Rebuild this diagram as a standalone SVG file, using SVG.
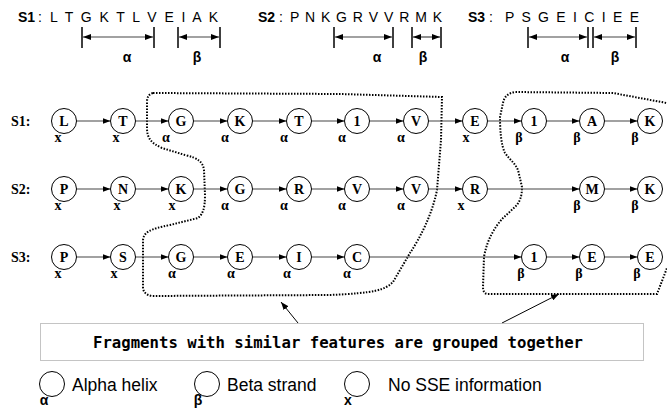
<svg xmlns="http://www.w3.org/2000/svg" width="667" height="409" viewBox="0 0 667 409">
<style>
.seq{font-family:"Liberation Sans",Arial,sans-serif;font-size:14px;fill:#000}
.seqb{font-family:"Liberation Sans",Arial,sans-serif;font-size:14px;font-weight:bold;fill:#000}
.gk{font-family:"Liberation Sans",Arial,sans-serif;font-size:14px;font-weight:bold;fill:#000;text-anchor:middle}
.bar{stroke:#000;stroke-width:1.5}
.span{stroke:#444;stroke-width:1.2;fill:none}
.row{font-family:"Liberation Serif","Times New Roman",serif;font-size:14px;font-weight:bold;fill:#000}
circle.n{fill:#fff;stroke:#000;stroke-width:1}
.lt{font-family:"Liberation Serif","Times New Roman",serif;font-size:14px;font-weight:bold;fill:#000;text-anchor:middle}
.sse{font-family:"Liberation Serif","Times New Roman",serif;font-size:14px;font-weight:bold;fill:#000;text-anchor:middle}
.edge{stroke:#444;stroke-width:1.2;fill:none}
.grp{stroke:#000;stroke-width:2;fill:none;stroke-dasharray:1.5 1.5}
.ptr{stroke:#000;stroke-width:1;fill:none}
.box{fill:#fff;stroke:#888;stroke-width:1;stroke-dasharray:1 1}
.boxt{font-family:"DejaVu Sans Mono",monospace;font-size:15.5px;font-weight:bold;fill:#000}
.leg{font-family:"Liberation Sans",Arial,sans-serif;font-size:17.5px;fill:#000}
</style>
<defs>
<marker id="ah" viewBox="0 0 8 6" refX="8" refY="3" markerWidth="8" markerHeight="6" markerUnits="userSpaceOnUse" orient="auto-start-reverse">
<path d="M0,0 L8,3 L0,6 z" fill="#000"/>
</marker>
</defs>
<rect width="667" height="409" fill="#fff"/>

<g id="sequences">
<text class="seqb" x="18" y="22">S1</text><text class="seq" x="38" y="22">:</text>
<text class="seq" x="50" y="22" textLength="168" lengthAdjust="spacing">L T G K T L V E I A K</text>
<text class="seqb" x="258" y="22">S2</text><text class="seq" x="279" y="22">:</text>
<text class="seq" x="290" y="22" textLength="152" lengthAdjust="spacing">P N K G R V V R M K</text>
<text class="seqb" x="468" y="22">S3</text><text class="seq" x="489" y="22">:</text>
<text class="seq" x="505" y="22" textLength="134" lengthAdjust="spacing">P S G E I C I E E</text>
</g>

<g id="brackets">
<line class="bar" x1="82" y1="27" x2="82" y2="48"/><line class="bar" x1="154" y1="27" x2="154" y2="48"/>
<line class="span" x1="83" y1="37" x2="153" y2="37" marker-start="url(#ah)" marker-end="url(#ah)"/>
<text class="gk" x="127" y="62">α</text>
<line class="bar" x1="178" y1="27" x2="178" y2="48"/><line class="bar" x1="220" y1="27" x2="220" y2="48"/>
<line class="span" x1="179" y1="37" x2="219" y2="37" marker-start="url(#ah)" marker-end="url(#ah)"/>
<text class="gk" x="197" y="62">β</text>
<line class="bar" x1="334" y1="27" x2="334" y2="48"/><line class="bar" x1="393" y1="27" x2="393" y2="48"/>
<line class="span" x1="335" y1="37" x2="392" y2="37" marker-start="url(#ah)" marker-end="url(#ah)"/>
<text class="gk" x="377" y="62">α</text>
<line class="bar" x1="412" y1="27" x2="412" y2="48"/><line class="bar" x1="441" y1="27" x2="441" y2="48"/>
<line class="span" x1="413" y1="37" x2="440" y2="37" marker-start="url(#ah)" marker-end="url(#ah)"/>
<text class="gk" x="423" y="62">β</text>
<line class="bar" x1="528" y1="27" x2="528" y2="48"/><line class="bar" x1="588" y1="27" x2="588" y2="48"/>
<line class="span" x1="529" y1="37" x2="587" y2="37" marker-start="url(#ah)" marker-end="url(#ah)"/>
<text class="gk" x="565" y="62">α</text>
<line class="bar" x1="593" y1="27" x2="593" y2="48"/><line class="bar" x1="636" y1="27" x2="636" y2="48"/>
<line class="span" x1="594" y1="37" x2="635" y2="37" marker-start="url(#ah)" marker-end="url(#ah)"/>
<text class="gk" x="615" y="62">β</text>
</g>

<g id="row-labels">
<text class="row" x="11" y="126">S1:</text>
<text class="row" x="11" y="194">S2:</text>
<text class="row" x="11" y="262">S3:</text>
</g>

<g id="groups">
<path class="grp" d="M153,93 L340,94 L442,97 L441,140 L437,190 C432,215 420,238 410,253 L393,282 C385,290 375,293 330,295 L152,296 C146,295 143,292 143,287 L143,240 C144,232 150,229 170,225 L198,218 C203,214 205,208 205,195 L204,170 C203,162 198,158 185,155 L162,148 C151,143 147,138 147,128 L147,102 C147,97 149,94 153,93 Z"/>
<path class="grp" d="M672,104 L613,93 L515,92 C508,93 504,97 503,103 L500,117 C500,130 501,145 505,153 C510,160 515,163 518,170 L522,187 C522,196 520,202 515,207 L503,218 C494,228 487,240 484,257 L483,287 C483,292 485,294 488,294 L657,294 L667,268"/>
</g>

<g id="connectors">
<line class="edge" x1="76.5" y1="121" x2="110.5" y2="121" marker-end="url(#ah)"/>
<line class="edge" x1="135.5" y1="121" x2="168.5" y2="121" marker-end="url(#ah)"/>
<line class="edge" x1="193.5" y1="121" x2="227.5" y2="121" marker-end="url(#ah)"/>
<line class="edge" x1="252.5" y1="121" x2="286.5" y2="121" marker-end="url(#ah)"/>
<line class="edge" x1="311.5" y1="121" x2="344.5" y2="121" marker-end="url(#ah)"/>
<line class="edge" x1="369.5" y1="121" x2="403.5" y2="121" marker-end="url(#ah)"/>
<line class="edge" x1="428.5" y1="121" x2="462.5" y2="121" marker-end="url(#ah)"/>
<line class="edge" x1="487.5" y1="121" x2="521.5" y2="121" marker-end="url(#ah)"/>
<line class="edge" x1="546.5" y1="121" x2="579.5" y2="121" marker-end="url(#ah)"/>
<line class="edge" x1="604.5" y1="121" x2="637.5" y2="121" marker-end="url(#ah)"/>

<line class="edge" x1="76.5" y1="189" x2="110.5" y2="189" marker-end="url(#ah)"/>
<line class="edge" x1="135.5" y1="189" x2="168.5" y2="189" marker-end="url(#ah)"/>
<line class="edge" x1="193.5" y1="189" x2="227.5" y2="189" marker-end="url(#ah)"/>
<line class="edge" x1="252.5" y1="189" x2="286.5" y2="189" marker-end="url(#ah)"/>
<line class="edge" x1="311.5" y1="189" x2="344.5" y2="189" marker-end="url(#ah)"/>
<line class="edge" x1="369.5" y1="189" x2="403.5" y2="189" marker-end="url(#ah)"/>
<line class="edge" x1="428.5" y1="189" x2="462.5" y2="189" marker-end="url(#ah)"/>
<line class="edge" x1="487.5" y1="189" x2="579.5" y2="189" marker-end="url(#ah)"/>
<line class="edge" x1="604.5" y1="189" x2="637.5" y2="189" marker-end="url(#ah)"/>

<line class="edge" x1="76.5" y1="257" x2="110.5" y2="257" marker-end="url(#ah)"/>
<line class="edge" x1="135.5" y1="257" x2="168.5" y2="257" marker-end="url(#ah)"/>
<line class="edge" x1="193.5" y1="257" x2="227.5" y2="257" marker-end="url(#ah)"/>
<line class="edge" x1="252.5" y1="257" x2="286.5" y2="257" marker-end="url(#ah)"/>
<line class="edge" x1="311.5" y1="257" x2="344.5" y2="257" marker-end="url(#ah)"/>
<line class="edge" x1="369.5" y1="257" x2="521.5" y2="257" marker-end="url(#ah)"/>
<line class="edge" x1="546.5" y1="257" x2="579.5" y2="257" marker-end="url(#ah)"/>
<line class="edge" x1="604.5" y1="257" x2="637.5" y2="257" marker-end="url(#ah)"/>

<line class="ptr" x1="298" y1="323" x2="281" y2="302" marker-end="url(#ah)"/>
<line class="ptr" x1="502" y1="323" x2="559" y2="294" marker-end="url(#ah)"/>
</g>

<g id="s1-nodes">
<g id="s1-L"><circle class="n" cx="64" cy="121" r="12.5"/><text class="lt" x="64" y="126">L</text><text class="sse" x="58" y="142">x</text></g>
<g id="s1-T1"><circle class="n" cx="123" cy="121" r="12.5"/><text class="lt" x="123" y="126">T</text><text class="sse" x="116" y="142">x</text></g>
<g id="s1-G"><circle class="n" cx="181" cy="121" r="12.5"/><text class="lt" x="181" y="126">G</text><text class="sse" x="166" y="142">α</text></g>
<g id="s1-K1"><circle class="n" cx="240" cy="121" r="12.5"/><text class="lt" x="240" y="126">K</text><text class="sse" x="225" y="142">α</text></g>
<g id="s1-T2"><circle class="n" cx="299" cy="121" r="12.5"/><text class="lt" x="299" y="126">T</text><text class="sse" x="284" y="142">α</text></g>
<g id="s1-I1"><circle class="n" cx="357" cy="121" r="12.5"/><text class="lt" x="357" y="126">1</text><text class="sse" x="342" y="142">α</text></g>
<g id="s1-V"><circle class="n" cx="416" cy="121" r="12.5"/><text class="lt" x="416" y="126">V</text><text class="sse" x="401" y="142">α</text></g>
<g id="s1-E"><circle class="n" cx="475" cy="121" r="12.5"/><text class="lt" x="475" y="126">E</text><text class="sse" x="466" y="142">x</text></g>
<g id="s1-I2"><circle class="n" cx="534" cy="121" r="12.5"/><text class="lt" x="534" y="126">1</text><text class="sse" x="519" y="142">β</text></g>
<g id="s1-A"><circle class="n" cx="592" cy="121" r="12.5"/><text class="lt" x="592" y="126">A</text><text class="sse" x="577" y="142">β</text></g>
<g id="s1-K2"><circle class="n" cx="650" cy="121" r="12.5"/><text class="lt" x="650" y="126">K</text><text class="sse" x="635" y="142">β</text></g>
</g>

<g id="s2-nodes">
<g id="s2-P"><circle class="n" cx="64" cy="189" r="12.5"/><text class="lt" x="64" y="194">P</text><text class="sse" x="58" y="210">x</text></g>
<g id="s2-N"><circle class="n" cx="123" cy="189" r="12.5"/><text class="lt" x="123" y="194">N</text><text class="sse" x="117" y="210">x</text></g>
<g id="s2-K1"><circle class="n" cx="181" cy="189" r="12.5"/><text class="lt" x="181" y="194">K</text><text class="sse" x="172" y="210">x</text></g>
<g id="s2-G"><circle class="n" cx="240" cy="189" r="12.5"/><text class="lt" x="240" y="194">G</text><text class="sse" x="225" y="210">α</text></g>
<g id="s2-R1"><circle class="n" cx="299" cy="189" r="12.5"/><text class="lt" x="299" y="194">R</text><text class="sse" x="284" y="210">α</text></g>
<g id="s2-V1"><circle class="n" cx="357" cy="189" r="12.5"/><text class="lt" x="357" y="194">V</text><text class="sse" x="342" y="210">α</text></g>
<g id="s2-V2"><circle class="n" cx="416" cy="189" r="12.5"/><text class="lt" x="416" y="194">V</text><text class="sse" x="401" y="210">α</text></g>
<g id="s2-R2"><circle class="n" cx="475" cy="189" r="12.5"/><text class="lt" x="475" y="194">R</text><text class="sse" x="461" y="210">x</text></g>
<g id="s2-M"><circle class="n" cx="592" cy="189" r="12.5"/><text class="lt" x="592" y="194">M</text><text class="sse" x="577" y="210">β</text></g>
<g id="s2-K2"><circle class="n" cx="650" cy="189" r="12.5"/><text class="lt" x="650" y="194">K</text><text class="sse" x="635" y="210">β</text></g>
</g>

<g id="s3-nodes">
<g id="s3-P"><circle class="n" cx="64" cy="257" r="12.5"/><text class="lt" x="64" y="262">P</text><text class="sse" x="58" y="278">x</text></g>
<g id="s3-S"><circle class="n" cx="123" cy="257" r="12.5"/><text class="lt" x="123" y="262">S</text><text class="sse" x="114" y="278">x</text></g>
<g id="s3-G"><circle class="n" cx="181" cy="257" r="12.5"/><text class="lt" x="181" y="262">G</text><text class="sse" x="172" y="278">α</text></g>
<g id="s3-E1"><circle class="n" cx="240" cy="257" r="12.5"/><text class="lt" x="240" y="262">E</text><text class="sse" x="231" y="278">α</text></g>
<g id="s3-I1"><circle class="n" cx="299" cy="257" r="12.5"/><text class="lt" x="299" y="262">I</text><text class="sse" x="287" y="278">α</text></g>
<g id="s3-C"><circle class="n" cx="357" cy="257" r="12.5"/><text class="lt" x="357" y="262">C</text><text class="sse" x="347" y="278">α</text></g>
<g id="s3-I2"><circle class="n" cx="534" cy="257" r="12.5"/><text class="lt" x="534" y="262">1</text><text class="sse" x="521" y="278">β</text></g>
<g id="s3-E2"><circle class="n" cx="592" cy="257" r="12.5"/><text class="lt" x="592" y="262">E</text><text class="sse" x="579" y="278">β</text></g>
<g id="s3-E3"><circle class="n" cx="650" cy="257" r="12.5"/><text class="lt" x="650" y="262">E</text><text class="sse" x="637" y="278">β</text></g>
</g>

<g id="note">
<rect class="box" x="40.5" y="323.5" width="603" height="37"/>
<text class="boxt" x="93" y="348" textLength="490" lengthAdjust="spacingAndGlyphs">Fragments with similar features are grouped together</text>
</g>

<g id="legend">
<g id="leg-alpha"><circle class="n" cx="52" cy="384" r="12.5"/><text class="gk" x="44" y="405">α</text><text class="leg" x="72" y="391">Alpha helix</text></g>
<g id="leg-beta"><circle class="n" cx="207" cy="384" r="12.5"/><text class="gk" x="198" y="405">β</text><text class="leg" x="227" y="391">Beta strand</text></g>
<g id="leg-none"><circle class="n" cx="357" cy="384" r="12.5"/><text class="gk" x="348" y="405">x</text><text class="leg" x="388" y="391">No SSE information</text></g>
</g>
</svg>
